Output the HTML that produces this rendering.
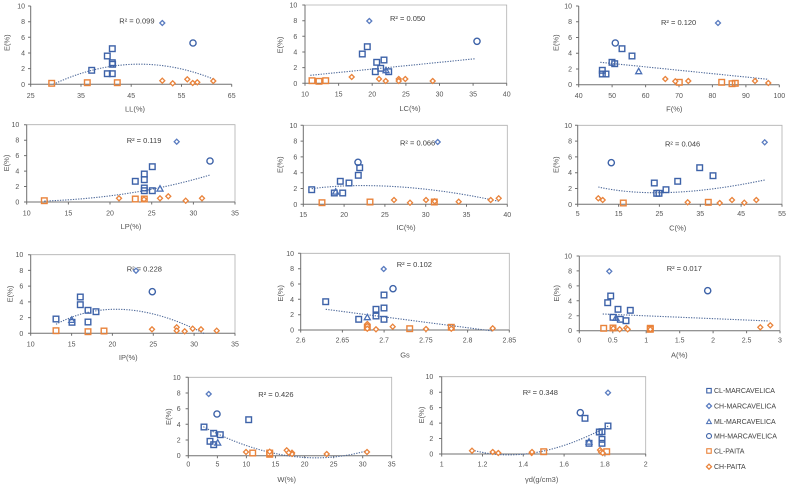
<!DOCTYPE html>
<html><head><meta charset="utf-8"><style>
html,body{margin:0;padding:0;background:#fff;}
svg{display:block;}
text{font-family:"Liberation Sans",sans-serif;font-size:7px;fill:#555;}
.yl{text-anchor:end;}
.xl{text-anchor:middle;}
.t{text-anchor:middle;fill:#555;font-size:7.5px;}
.r{fill:#404040;font-size:7.5px;}
.lg{fill:#404040;font-size:7px;}
.ax{stroke:#707070;stroke-width:1;fill:none;}
.bx{stroke:#b0b0b0;stroke-width:0.8;fill:none;}
.tr{stroke:#4f6a9a;stroke-width:1.1;stroke-dasharray:1.3 1.3;fill:none;}
</style></head><body>
<svg width="806" height="491" viewBox="0 0 806 491" xmlns="http://www.w3.org/2000/svg">
<defs>
<rect id="sb" x="-2.8" y="-2.8" width="5.6" height="5.6" fill="none" stroke="#3d62a8" stroke-width="1.4"/>
<rect id="so" x="-2.8" y="-2.8" width="5.6" height="5.6" fill="none" stroke="#e9833b" stroke-width="1.4"/>
<polygon id="db" points="0,-2.5 2.5,0 0,2.5 -2.5,0" fill="#fff" stroke="#5a7cc0" stroke-width="1.3"/>
<polygon id="do" points="0,-2.5 2.5,0 0,2.5 -2.5,0" fill="#fff" stroke="#e9833b" stroke-width="1.3"/>
<polygon id="tb" points="0,-3 3,2.4 -3,2.4" fill="none" stroke="#4a6fb5" stroke-width="1.3"/>
<circle id="cb" r="3.1" fill="none" stroke="#3d62a8" stroke-width="1.4"/>
</defs>

<!-- ============ Plot 1 LL ============ -->
<path class="ax" d="M30.7,6 V84.3 H231.7"/>
<path class="ax" d="M28,84.3H30.7M28,68.6H30.7M28,53H30.7M28,37.3H30.7M28,21.7H30.7M28,6H30.7M30.7,84.3v2.5M81,84.3v2.5M131.2,84.3v2.5M181.5,84.3v2.5M231.7,84.3v2.5"/>
<text class="yl" x="25" y="86.8">0</text><text class="yl" x="25" y="71.1">2</text><text class="yl" x="25" y="55.5">4</text><text class="yl" x="25" y="39.8">6</text><text class="yl" x="25" y="24.2">8</text><text class="yl" x="25" y="8.5">10</text>
<text class="xl" x="30.7" y="98">25</text><text class="xl" x="81" y="98">35</text><text class="xl" x="131.2" y="98">45</text><text class="xl" x="181.5" y="98">55</text><text class="xl" x="231.7" y="98">65</text>
<text class="t" x="135" y="111.5">LL(%)</text>
<text class="t" transform="translate(9.5,42.7) rotate(-90)">E(%)</text>
<text class="r" x="119.3" y="23.5">R² = 0.099</text>
<path class="tr" d="M53.3,84.3 Q133.3,46.9 213.3,79"/>
<use href="#so" x="51.7" y="83.3"/><use href="#so" x="87.3" y="82.7"/><use href="#so" x="117.3" y="82.7"/>
<use href="#do" x="162.3" y="80.7"/><use href="#do" x="172.7" y="83.3"/><use href="#do" x="187.3" y="79.3"/><use href="#do" x="192.7" y="83"/><use href="#do" x="197.3" y="82.3"/><use href="#do" x="213.3" y="81"/>
<use href="#sb" x="91.7" y="70.3"/><use href="#sb" x="107.3" y="56"/><use href="#sb" x="112.3" y="48.7"/><use href="#sb" x="112.3" y="62.7"/><use href="#sb" x="112.6" y="64.3"/><use href="#sb" x="107.3" y="73.7"/><use href="#sb" x="112.3" y="73.7"/>
<use href="#db" x="162.3" y="23"/><use href="#cb" x="193" y="43"/>

<!-- ============ Plot 2 LC ============ -->
<path class="bx" d="M305,5 H506.7 V83.3"/>
<path class="ax" d="M305,5 V83.3 H506.7"/>
<path class="ax" d="M302.3,83.3H305M302.3,67.6H305M302.3,52H305M302.3,36.3H305M302.3,20.7H305M302.3,5H305M305,83.3v2.5M338.6,83.3v2.5M372.2,83.3v2.5M405.9,83.3v2.5M439.5,83.3v2.5M473.1,83.3v2.5M506.7,83.3v2.5"/>
<text class="yl" x="297.3" y="85.8">0</text><text class="yl" x="297.3" y="70.1">2</text><text class="yl" x="297.3" y="54.5">4</text><text class="yl" x="297.3" y="38.8">6</text><text class="yl" x="297.3" y="23.2">8</text><text class="yl" x="297.3" y="7.5">10</text>
<text class="xl" x="305" y="96.5">10</text><text class="xl" x="338.6" y="96.5">15</text><text class="xl" x="372.2" y="96.5">20</text><text class="xl" x="405.9" y="96.5">25</text><text class="xl" x="439.5" y="96.5">30</text><text class="xl" x="473.1" y="96.5">35</text><text class="xl" x="506.7" y="96.5">40</text>
<text class="t" x="410" y="111.2">LC(%)</text>
<text class="t" transform="translate(282.5,45) rotate(-90)">E(%)</text>
<text class="r" x="390" y="21">R² = 0.050</text>
<path class="tr" d="M310.3,75.3 L475.7,58.7"/>
<use href="#so" x="312" y="80.7"/><use href="#so" x="319" y="81.3"/><use href="#so" x="325.7" y="80.7"/>
<use href="#do" x="351.7" y="77"/><use href="#do" x="379" y="79"/><use href="#do" x="385.7" y="81"/><use href="#do" x="398.7" y="79"/><use href="#do" x="398.7" y="81"/><use href="#do" x="405.3" y="79"/><use href="#do" x="432.7" y="81"/>
<use href="#sb" x="362.3" y="54"/><use href="#sb" x="367.3" y="46.7"/><use href="#sb" x="376.7" y="62.3"/><use href="#sb" x="384" y="60"/><use href="#sb" x="380.7" y="68.3"/><use href="#sb" x="375.3" y="71.7"/><use href="#sb" x="388.7" y="71.7"/>
<use href="#tb" x="386" y="70.3"/><use href="#db" x="369.3" y="21"/><use href="#cb" x="477" y="41.3"/>

<!-- ============ Plot 3 F ============ -->
<path class="ax" d="M578.7,6 V84.7 H779.3"/>
<path class="ax" d="M576,84.7H578.7M576,69H578.7M576,53.2H578.7M576,37.5H578.7M576,21.7H578.7M576,6H578.7M578.7,84.7v2.5M612.1,84.7v2.5M645.6,84.7v2.5M679,84.7v2.5M712.4,84.7v2.5M745.9,84.7v2.5M779.3,84.7v2.5"/>
<text class="yl" x="572" y="87.2">0</text><text class="yl" x="572" y="71.5">2</text><text class="yl" x="572" y="55.7">4</text><text class="yl" x="572" y="40">6</text><text class="yl" x="572" y="24.2">8</text><text class="yl" x="572" y="8.5">10</text>
<text class="xl" x="578.7" y="98.2">40</text><text class="xl" x="612.1" y="98.2">50</text><text class="xl" x="645.6" y="98.2">60</text><text class="xl" x="679" y="98.2">70</text><text class="xl" x="712.4" y="98.2">80</text><text class="xl" x="745.9" y="98.2">90</text><text class="xl" x="779.3" y="98.2">100</text>
<text class="t" x="674.3" y="111.5">F(%)</text>
<text class="t" transform="translate(558.5,42.7) rotate(-90)">E(%)</text>
<text class="r" x="661" y="25">R² = 0.120</text>
<path class="tr" d="M600.3,62.3 L768.3,79.3"/>
<use href="#so" x="679.3" y="82.3"/><use href="#so" x="721.7" y="82.3"/><use href="#so" x="735.3" y="83.3"/><use href="#so" x="732" y="83.7"/>
<use href="#do" x="665.3" y="79"/><use href="#do" x="675.3" y="81.3"/><use href="#do" x="688.3" y="81"/><use href="#do" x="755" y="81"/><use href="#do" x="768.3" y="83"/>
<use href="#sb" x="602.3" y="70.3"/><use href="#sb" x="602.3" y="74"/><use href="#sb" x="606" y="74"/><use href="#sb" x="612" y="62.3"/><use href="#sb" x="614.7" y="63.7"/><use href="#sb" x="622" y="48.7"/><use href="#sb" x="632" y="56"/>
<use href="#cb" x="615.3" y="43"/><use href="#tb" x="638.7" y="71.3"/><use href="#db" x="718" y="23"/>

<!-- ============ Plot 4 LP ============ -->
<path class="bx" d="M26.7,124.7 H235 V202"/>
<path class="ax" d="M26.7,124.7 V202 H235"/>
<path class="ax" d="M24,202H26.7M24,186.5H26.7M24,171.1H26.7M24,155.6H26.7M24,140.2H26.7M24,124.7H26.7M26.7,202v2.5M68.4,202v2.5M110,202v2.5M151.7,202v2.5M193.4,202v2.5M235,202v2.5"/>
<text class="yl" x="19.3" y="204.5">0</text><text class="yl" x="19.3" y="189">2</text><text class="yl" x="19.3" y="173.6">4</text><text class="yl" x="19.3" y="158.1">6</text><text class="yl" x="19.3" y="142.7">8</text><text class="yl" x="19.3" y="127.2">10</text>
<text class="xl" x="26.7" y="215.5">10</text><text class="xl" x="68.4" y="215.5">15</text><text class="xl" x="110" y="215.5">20</text><text class="xl" x="151.7" y="215.5">25</text><text class="xl" x="193.4" y="215.5">30</text><text class="xl" x="235" y="215.5">35</text>
<text class="t" x="131" y="228.8">LP(%)</text>
<text class="t" transform="translate(9.2,163) rotate(-90)">E(%)</text>
<text class="r" x="126.7" y="142.8">R² = 0.119</text>
<path class="tr" d="M44.3,201 Q133.3,198 210,175"/>
<use href="#so" x="44.3" y="200.7"/><use href="#so" x="135.3" y="199"/><use href="#so" x="144.3" y="199"/>
<use href="#do" x="119" y="198.3"/><use href="#do" x="144" y="199.3"/><use href="#do" x="160" y="198.3"/><use href="#do" x="168.3" y="196.3"/><use href="#do" x="185.7" y="200.7"/><use href="#do" x="202" y="198.3"/>
<use href="#sb" x="135.3" y="181.3"/><use href="#sb" x="144.3" y="174"/><use href="#sb" x="144.3" y="179.7"/><use href="#sb" x="144.3" y="188"/><use href="#sb" x="144.3" y="190.7"/><use href="#sb" x="152.3" y="166.7"/><use href="#sb" x="152.3" y="190.7"/>
<use href="#tb" x="160" y="188.7"/><use href="#db" x="176.7" y="141.7"/><use href="#cb" x="210" y="161"/>

<!-- ============ Plot 5 IC ============ -->
<path class="bx" d="M303.3,125.3 H507.3 V204.3"/>
<path class="ax" d="M303.3,125.3 V204.3 H507.3"/>
<path class="ax" d="M300.6,204.3H303.3M300.6,188.5H303.3M300.6,172.7H303.3M300.6,156.9H303.3M300.6,141.1H303.3M300.6,125.3H303.3M303.3,204.3v2.5M344.1,204.3v2.5M384.9,204.3v2.5M425.7,204.3v2.5M466.5,204.3v2.5M507.3,204.3v2.5"/>
<text class="yl" x="297.3" y="206.8">0</text><text class="yl" x="297.3" y="191">2</text><text class="yl" x="297.3" y="175.2">4</text><text class="yl" x="297.3" y="159.4">6</text><text class="yl" x="297.3" y="143.6">8</text><text class="yl" x="297.3" y="127.8">10</text>
<text class="xl" x="303.3" y="217.2">15</text><text class="xl" x="344.1" y="217.2">20</text><text class="xl" x="384.9" y="217.2">25</text><text class="xl" x="425.7" y="217.2">30</text><text class="xl" x="466.5" y="217.2">35</text><text class="xl" x="507.3" y="217.2">40</text>
<text class="t" x="406" y="229.8">IC(%)</text>
<text class="t" transform="translate(282.5,164.7) rotate(-90)">E(%)</text>
<text class="r" x="400" y="145.5">R² = 0.066</text>
<path class="tr" d="M311.7,188.7 C353.3,183 420,184 498.7,201.3"/>
<use href="#so" x="322" y="202.7"/><use href="#so" x="370" y="202"/><use href="#so" x="434.3" y="202"/>
<use href="#do" x="394" y="200"/><use href="#do" x="410" y="202.7"/><use href="#do" x="426" y="200"/><use href="#do" x="434.7" y="201.3"/><use href="#do" x="458.7" y="201.7"/><use href="#do" x="490.7" y="200"/><use href="#do" x="498.7" y="198.3"/>
<use href="#sb" x="311.7" y="189.7"/><use href="#sb" x="334.3" y="193"/><use href="#sb" x="340.3" y="181.3"/><use href="#sb" x="342.7" y="193"/><use href="#sb" x="349" y="183"/><use href="#sb" x="358.3" y="175.3"/><use href="#sb" x="359.7" y="167.7"/>
<use href="#cb" x="358" y="162.3"/><use href="#tb" x="335.7" y="191.7"/><use href="#db" x="437.7" y="142"/>

<!-- ============ Plot 6 C ============ -->
<path class="bx" d="M577.7,125.3 H782 V204.3"/>
<path class="ax" d="M577.7,125.3 V204.3 H782"/>
<path class="ax" d="M575,204.3H577.7M575,188.5H577.7M575,172.7H577.7M575,156.9H577.7M575,141.1H577.7M575,125.3H577.7M577.7,204.3v2.5M618.6,204.3v2.5M659.4,204.3v2.5M700.3,204.3v2.5M741.1,204.3v2.5M782,204.3v2.5"/>
<text class="yl" x="572" y="206.8">0</text><text class="yl" x="572" y="191">2</text><text class="yl" x="572" y="175.2">4</text><text class="yl" x="572" y="159.4">6</text><text class="yl" x="572" y="143.6">8</text><text class="yl" x="572" y="127.8">10</text>
<text class="xl" x="577.7" y="216.2">5</text><text class="xl" x="618.6" y="216.2">15</text><text class="xl" x="659.4" y="216.2">25</text><text class="xl" x="700.3" y="216.2">35</text><text class="xl" x="741.1" y="216.2">45</text><text class="xl" x="782" y="216.2">55</text>
<text class="t" x="677.7" y="230.5">C(%)</text>
<text class="t" transform="translate(558.5,164.7) rotate(-90)">E(%)</text>
<text class="r" x="665" y="146.5">R² = 0.046</text>
<path class="tr" d="M598.3,187 Q662.7,201.3 764.7,180"/>
<use href="#so" x="623.3" y="203"/><use href="#so" x="708.3" y="202.3"/>
<use href="#do" x="598.3" y="198.3"/><use href="#do" x="602.7" y="200"/><use href="#do" x="687.7" y="202.3"/><use href="#do" x="719.7" y="203"/><use href="#do" x="732" y="200"/><use href="#do" x="744.3" y="202.7"/><use href="#do" x="756.3" y="200"/>
<use href="#sb" x="654.3" y="183"/><use href="#sb" x="656.7" y="193.3"/><use href="#sb" x="659" y="193.3"/><use href="#sb" x="666" y="189.7"/><use href="#sb" x="677.7" y="181.3"/><use href="#sb" x="699.7" y="167.7"/><use href="#sb" x="713" y="175.7"/>
<use href="#cb" x="611.3" y="162.7"/><use href="#db" x="764.7" y="142.3"/>

<!-- ============ Plot 7 IP ============ -->
<path class="bx" d="M30.7,254.7 H235 V333.3"/>
<path class="ax" d="M30.7,254.7 V333.3 H235"/>
<path class="ax" d="M28,333.3H30.7M28,317.6H30.7M28,301.9H30.7M28,286.1H30.7M28,270.4H30.7M28,254.7H30.7M30.7,333.3v2.5M71.6,333.3v2.5M112.4,333.3v2.5M153.3,333.3v2.5M194.1,333.3v2.5M235,333.3v2.5"/>
<text class="yl" x="23.3" y="335.8">0</text><text class="yl" x="23.3" y="320.1">2</text><text class="yl" x="23.3" y="304.4">4</text><text class="yl" x="23.3" y="288.6">6</text><text class="yl" x="23.3" y="272.9">8</text><text class="yl" x="23.3" y="257.2">10</text>
<text class="xl" x="30.7" y="346.5">10</text><text class="xl" x="71.6" y="346.5">15</text><text class="xl" x="112.4" y="346.5">20</text><text class="xl" x="153.3" y="346.5">25</text><text class="xl" x="194.1" y="346.5">30</text><text class="xl" x="235" y="346.5">35</text>
<text class="t" x="128.3" y="360.2">IP(%)</text>
<text class="t" transform="translate(12.5,294) rotate(-90)">E(%)</text>
<text class="r" x="126.7" y="271.5">R² = 0.228</text>
<path class="tr" d="M56,324.3 Q120,290 205,334"/>
<use href="#so" x="56" y="330.7"/><use href="#so" x="88" y="331.7"/><use href="#so" x="104" y="331"/>
<use href="#do" x="152" y="329.3"/><use href="#do" x="176.7" y="327.3"/><use href="#do" x="176.7" y="330.7"/><use href="#do" x="184.7" y="331.3"/><use href="#do" x="192.7" y="328.7"/><use href="#do" x="201" y="329.3"/><use href="#do" x="216.7" y="330.7"/>
<use href="#sb" x="56" y="319"/><use href="#sb" x="72" y="322.3"/><use href="#sb" x="80.3" y="297"/><use href="#sb" x="80.3" y="304.7"/><use href="#sb" x="88" y="310.3"/><use href="#sb" x="88" y="322"/><use href="#sb" x="96" y="311.7"/>
<use href="#tb" x="71.7" y="320"/><use href="#db" x="136" y="270.7"/><use href="#cb" x="152.3" y="291.7"/>

<!-- ============ Plot 8 Gs ============ -->
<path class="bx" d="M300.7,253.3 H509.3 V330"/>
<path class="ax" d="M300.7,253.3 V330 H509.3"/>
<path class="ax" d="M298,330H300.7M298,314.7H300.7M298,299.3H300.7M298,284H300.7M298,268.7H300.7M298,253.3H300.7M300.7,330v2.5M342.4,330v2.5M384.1,330v2.5M425.9,330v2.5M467.6,330v2.5M509.3,330v2.5"/>
<text class="yl" x="294" y="332.5">0</text><text class="yl" x="294" y="317.2">2</text><text class="yl" x="294" y="301.8">4</text><text class="yl" x="294" y="286.5">6</text><text class="yl" x="294" y="271.2">8</text><text class="yl" x="294" y="255.8">10</text>
<text class="xl" x="300.7" y="342.5">2.6</text><text class="xl" x="342.4" y="342.5">2.65</text><text class="xl" x="384.1" y="342.5">2.7</text><text class="xl" x="425.9" y="342.5">2.75</text><text class="xl" x="467.6" y="342.5">2.8</text><text class="xl" x="509.3" y="342.5">2.85</text>
<text class="t" x="405" y="357.5">Gs</text>
<text class="t" transform="translate(283.2,293.3) rotate(-90)">E(%)</text>
<text class="r" x="396.7" y="267.2">R² = 0.102</text>
<path class="tr" d="M325.7,309.3 L492.7,331"/>
<use href="#so" x="367.3" y="327.3"/><use href="#so" x="409.7" y="328.7"/><use href="#so" x="451.3" y="327.3"/>
<use href="#do" x="367.3" y="324"/><use href="#do" x="367.3" y="326"/><use href="#do" x="367.3" y="328.7"/><use href="#do" x="376" y="329.3"/><use href="#do" x="392.7" y="326.7"/><use href="#do" x="426" y="329"/><use href="#do" x="451.3" y="328.7"/><use href="#do" x="492.7" y="328.3"/>
<use href="#sb" x="325.7" y="301.7"/><use href="#sb" x="358.7" y="319.3"/><use href="#sb" x="376" y="316"/><use href="#sb" x="376" y="309.3"/><use href="#sb" x="384" y="308"/><use href="#sb" x="384" y="295"/><use href="#sb" x="384" y="319.3"/>
<use href="#tb" x="367.3" y="317.3"/><use href="#db" x="383.7" y="269"/><use href="#cb" x="393" y="288.7"/>

<!-- ============ Plot 9 A ============ -->
<path class="bx" d="M579.3,256 H780 V330.7"/>
<path class="ax" d="M579.3,256 V330.7 H780"/>
<path class="ax" d="M576.6,330.7H579.3M576.6,315.8H579.3M576.6,300.8H579.3M576.6,285.9H579.3M576.6,270.9H579.3M576.6,256H579.3M579.3,330.7v2.5M612.8,330.7v2.5M646.2,330.7v2.5M679.7,330.7v2.5M713.1,330.7v2.5M746.6,330.7v2.5M780,330.7v2.5"/>
<text class="yl" x="572" y="333.2">0</text><text class="yl" x="572" y="318.3">2</text><text class="yl" x="572" y="303.3">4</text><text class="yl" x="572" y="288.4">6</text><text class="yl" x="572" y="273.4">8</text><text class="yl" x="572" y="258.5">10</text>
<text class="xl" x="579.3" y="342.5">0</text><text class="xl" x="612.8" y="342.5">0.5</text><text class="xl" x="646.2" y="342.5">1</text><text class="xl" x="679.7" y="342.5">1.5</text><text class="xl" x="713.1" y="342.5">2</text><text class="xl" x="746.6" y="342.5">2.5</text><text class="xl" x="780" y="342.5">3</text>
<text class="t" x="679.3" y="357.5">A(%)</text>
<text class="t" transform="translate(559.2,293.3) rotate(-90)">E(%)</text>
<text class="r" x="666.7" y="270.8">R² = 0.017</text>
<path class="tr" d="M602.7,314 L769.3,321"/>
<use href="#so" x="603.7" y="328.3"/><use href="#so" x="613" y="328"/><use href="#so" x="650.3" y="329.3"/><use href="#so" x="650.3" y="328.3"/>
<use href="#do" x="613.3" y="328.3"/><use href="#do" x="619.7" y="329.3"/><use href="#do" x="626.3" y="328"/><use href="#do" x="627.7" y="329.3"/><use href="#do" x="650.3" y="329.3"/><use href="#do" x="760.3" y="327.3"/><use href="#do" x="770.3" y="325.3"/>
<use href="#sb" x="607.7" y="302.7"/><use href="#sb" x="610.7" y="296"/><use href="#sb" x="613" y="317.3"/><use href="#sb" x="618" y="309.3"/><use href="#sb" x="620.3" y="319.3"/><use href="#sb" x="626" y="320.7"/><use href="#sb" x="630.3" y="310.3"/>
<use href="#tb" x="616" y="318"/><use href="#db" x="609.3" y="271.3"/><use href="#cb" x="707.7" y="290.7"/>

<!-- ============ Plot 10 W ============ -->
<path class="bx" d="M188.3,377.3 H391.7 V455.7"/>
<path class="ax" d="M188.3,377.3 V455.7 H391.7"/>
<path class="ax" d="M185.6,455.7H188.3M185.6,440H188.3M185.6,424.3H188.3M185.6,408.7H188.3M185.6,393H188.3M185.6,377.3H188.3M188.3,455.7v2.5M217.4,455.7v2.5M246.4,455.7v2.5M275.5,455.7v2.5M304.6,455.7v2.5M333.6,455.7v2.5M362.7,455.7v2.5M391.7,455.7v2.5"/>
<text class="yl" x="180.7" y="458.2">0</text><text class="yl" x="180.7" y="442.5">2</text><text class="yl" x="180.7" y="426.8">4</text><text class="yl" x="180.7" y="411.2">6</text><text class="yl" x="180.7" y="395.5">8</text><text class="yl" x="180.7" y="379.8">10</text>
<text class="xl" x="188.3" y="466.5">0</text><text class="xl" x="217.4" y="466.5">5</text><text class="xl" x="246.4" y="466.5">10</text><text class="xl" x="275.5" y="466.5">15</text><text class="xl" x="304.6" y="466.5">20</text><text class="xl" x="333.6" y="466.5">25</text><text class="xl" x="362.7" y="466.5">30</text><text class="xl" x="391.7" y="466.5">35</text>
<text class="t" x="286.7" y="481.8">W(%)</text>
<text class="t" transform="translate(170.8,416.7) rotate(-90)">E(%)</text>
<text class="r" x="258.3" y="396.8">R² = 0.426</text>
<path class="tr" d="M203.3,426.7 Q290,472.7 367,450.7"/>
<use href="#so" x="252.7" y="453"/><use href="#so" x="269.7" y="454.3"/><use href="#so" x="269.7" y="453"/>
<use href="#do" x="246" y="452"/><use href="#do" x="269.7" y="451.7"/><use href="#do" x="286.7" y="450.3"/><use href="#do" x="292" y="452.7"/><use href="#do" x="292" y="454"/><use href="#do" x="326.7" y="454"/><use href="#do" x="367" y="452"/><use href="#do" x="288.7" y="452.7"/>
<use href="#sb" x="204" y="427"/><use href="#sb" x="210" y="441.3"/><use href="#sb" x="213.7" y="433.3"/><use href="#sb" x="213.7" y="444.7"/><use href="#sb" x="220.3" y="434.7"/><use href="#sb" x="248.7" y="419.7"/>
<use href="#tb" x="217.7" y="442.7"/><use href="#db" x="208.7" y="394"/><use href="#cb" x="217" y="414"/>

<!-- ============ Plot 11 gamma d ============ -->
<path class="bx" d="M441.7,376.7 H645.7 V454"/>
<path class="ax" d="M441.7,376.7 V454 H645.7"/>
<path class="ax" d="M439,454H441.7M439,438.5H441.7M439,423.1H441.7M439,407.6H441.7M439,392.2H441.7M439,376.7H441.7M441.7,454v2.5M482.5,454v2.5M523.3,454v2.5M564.1,454v2.5M604.9,454v2.5M645.7,454v2.5"/>
<text class="yl" x="433.3" y="456.5">0</text><text class="yl" x="433.3" y="441">2</text><text class="yl" x="433.3" y="425.6">4</text><text class="yl" x="433.3" y="410.1">6</text><text class="yl" x="433.3" y="394.7">8</text><text class="yl" x="433.3" y="379.2">10</text>
<text class="xl" x="441.7" y="466.5">1</text><text class="xl" x="482.5" y="466.5">1.2</text><text class="xl" x="523.3" y="466.5">1.4</text><text class="xl" x="564.1" y="466.5">1.6</text><text class="xl" x="604.9" y="466.5">1.8</text><text class="xl" x="645.7" y="466.5">2</text>
<text class="t" x="541.7" y="481.8">γd(g/cm3)</text>
<text class="t" transform="translate(424.2,415) rotate(-90)">E(%)</text>
<text class="r" x="522.7" y="394.8">R² = 0.348</text>
<path class="tr" d="M472,450 Q533.3,466.7 608.3,426"/>
<use href="#so" x="543.7" y="451.7"/><use href="#so" x="606.7" y="451.7"/>
<use href="#do" x="472" y="450.7"/><use href="#do" x="492.7" y="452"/><use href="#do" x="498.3" y="453"/><use href="#do" x="531.7" y="453"/><use href="#do" x="532" y="452"/><use href="#do" x="600" y="450"/><use href="#do" x="601" y="452"/><use href="#do" x="602.7" y="453"/>
<use href="#sb" x="585" y="418.3"/><use href="#sb" x="589" y="443.3"/><use href="#sb" x="599.3" y="432"/><use href="#sb" x="602" y="431.7"/><use href="#sb" x="602" y="439.3"/><use href="#sb" x="602" y="443.3"/><use href="#sb" x="608" y="426"/>
<use href="#tb" x="589" y="441.7"/><use href="#cb" x="580.3" y="412.7"/><use href="#db" x="608" y="392.7"/>

<!-- ============ Legend ============ -->
<use href="#sb" x="709" y="390.7" transform="translate(709,390.7) scale(0.8) translate(-709,-390.7)"/>
<text class="lg" x="714" y="393.2">CL-MARCAVELICA</text>
<use href="#db" x="709" y="406"/>
<text class="lg" x="714" y="408.5">CH-MARCAVELICA</text>
<use href="#tb" x="709" y="421.7" transform="translate(709,421.7) scale(0.8) translate(-709,-421.7)"/>
<text class="lg" x="714" y="424.2">ML-MARCAVELICA</text>
<use href="#cb" x="709" y="436" transform="translate(709,436) scale(0.8) translate(-709,-436)"/>
<text class="lg" x="714" y="438.5">MH-MARCAVELICA</text>
<use href="#so" x="709" y="451" transform="translate(709,451) scale(0.8) translate(-709,-451)"/>
<text class="lg" x="714" y="453.5">CL-PAITA</text>
<use href="#do" x="709" y="466.7"/>
<text class="lg" x="714" y="469.2">CH-PAITA</text>
</svg>
</body></html>
